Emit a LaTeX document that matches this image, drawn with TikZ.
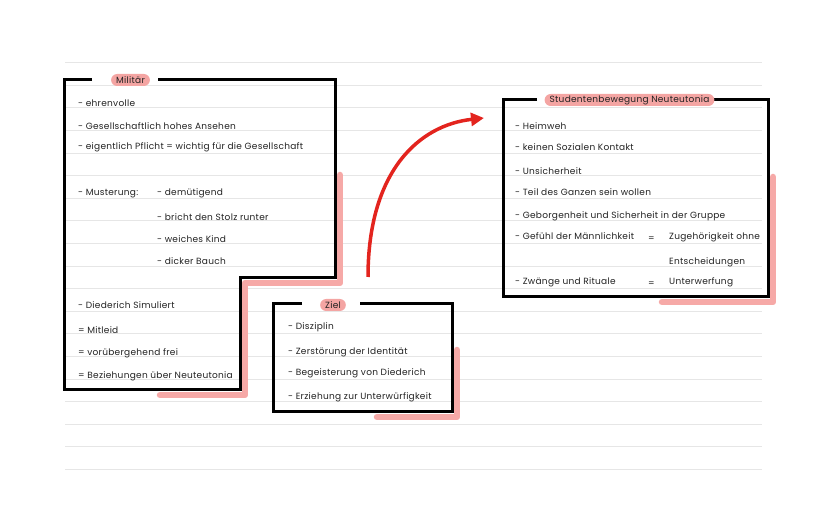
\documentclass[tikz,border=0pt]{standalone}
\usepackage{fontspec}
\setmainfont{Poppins}[LetterSpace=3]
\usetikzlibrary{arrows.meta}
\definecolor{ruleGray}{HTML}{E6E6E6}
\definecolor{shadowPink}{HTML}{F6A9A7}
\definecolor{tagPink}{HTML}{F4A5A3}
\definecolor{arrowRed}{HTML}{E3241E}
\definecolor{ink}{HTML}{222222}

\tikzset{
  ruled/.style={ruleGray,line width=1pt},
  frame/.style={black,line width=3pt,line join=miter},
  shadowband/.style={shadowPink,line width=6.5pt,line cap=round,line join=round},
  tag/.style={fill=tagPink,rounded corners=6pt,inner xsep=5pt,inner ysep=0pt,
    minimum height=12pt,text=ink,font=\fontsize{9}{10}\selectfont},
  item/.style={anchor=mid west,inner sep=0pt,text=ink,font=\fontsize{9}{10}\selectfont},
}

\begin{document}
\begin{tikzpicture}[x=1pt,y=-1pt]
  \useasboundingbox (0,0) rectangle (828,518);

  % Ruled paper
  \foreach \i in {0,...,18}
    \draw[ruled] (65,62.7+\i*22.6) -- (762,62.7+\i*22.6);

  % Shadows
  \draw[shadowband] (340,175) -- (340,283) -- (245,283) -- (245,395) -- (160,395);
  \draw[shadowband] (457,350) -- (457,417) -- (377,417);
  \draw[shadowband] (773,177) -- (773,302) -- (662,302);

  % Militaer box
  \draw[frame] (92,80) -- (64,80) -- (64,390) -- (240,390) -- (240,278)
    -- (335,278) -- (335,80) -- (158,80);
  \node[tag] (milTag) at (130.5,80) {Militär};
  \node[item] (mil1) at (78,104) {- ehrenvolle};
  \node[item] (mil2) at (78,127) {- Gesellschaftlich hohes Ansehen};
  \node[item] (mil3) at (78,147) {- eigentlich Pflicht = wichtig für die Gesellschaft};
  \node[item] (mil4) at (78,193) {- Musterung:};
  \node[item] (mil5) at (157,193) {- demütigend};
  \node[item] (mil6) at (157,218) {- bricht den Stolz runter};
  \node[item] (mil7) at (157,240) {- weiches Kind};
  \node[item] (mil8) at (157,262) {- dicker Bauch};
  \node[item] (mil9) at (78,306) {- Diederich Simuliert};
  \node[item] (mil10) at (78,331) {= Mitleid};
  \node[item] (mil11) at (78,353) {= vorübergehend frei};
  \node[item] (mil12) at (78,376) {= Beziehungen über Neuteutonia};

  % Ziel box
  \draw[frame] (302,304) -- (273,304) -- (273,412) -- (452,412) -- (452,304) -- (360,304);
  \node[tag] (zielTag) at (333,305) {Ziel};
  \node[item] (ziel1) at (288,327) {- Disziplin};
  \node[item] (ziel2) at (288,352) {- Zerstörung der Identität};
  \node[item] (ziel3) at (288,373) {- Begeisterung von Diederich};
  \node[item] (ziel4) at (288,397) {- Erziehung zur Unterwürfigkeit};

  % Studentenbewegung box
  \draw[frame] (537,100) -- (503,100) -- (503,297) -- (768,297) -- (768,100) -- (714,100);
  \node[tag] (stuTag) at (629.5,100) {Studentenbewegung Neuteutonia};
  \node[item] (stu1) at (515,127) {- Heimweh};
  \node[item] (stu2) at (515,148) {- keinen Sozialen Kontakt};
  \node[item] (stu3) at (515,172) {- Unsicherheit};
  \node[item] (stu4) at (515,193) {- Teil des Ganzen sein wollen};
  \node[item] (stu5) at (515,216) {- Geborgenheit und Sicherheit in der Gruppe};
  \node[item] (stu6) at (515,237) {- Gefühl der Männlichkeit};
  \node[item] (stu6eq) at (648,239) {=};
  \node[item] (stu6b) at (669,237) {Zugehörigkeit ohne};
  \node[item] (stu7) at (669,262) {Entscheidungen};
  \node[item] (stu8) at (515,282) {- Zwänge und Rituale};
  \node[item] (stu8eq) at (648,284) {=};
  \node[item] (stu8b) at (669,282) {Unterwerfung};

  % Arrow
  \coordinate (arrFrom) at (368,277);
  \coordinate (arrTo) at (484,118);
  \draw[arrowRed,line width=3.5pt,-{Triangle[length=13pt,width=13pt]}]
    (arrFrom) .. controls (368,170) and (420,125) .. (arrTo);
\end{tikzpicture}
\end{document}
